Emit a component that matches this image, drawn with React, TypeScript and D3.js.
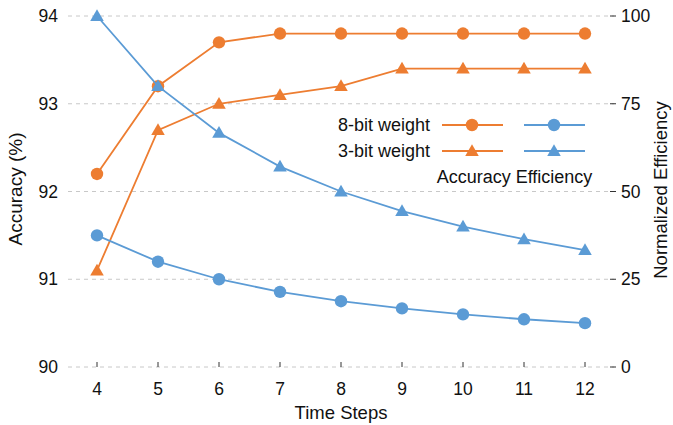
import * as d3 from "d3";

const steps = [4, 5, 6, 7, 8, 9, 10, 11, 12];
const acc8 = [92.2, 93.2, 93.7, 93.8, 93.8, 93.8, 93.8, 93.8, 93.8];
const acc3 = [91.1, 92.7, 93.0, 93.1, 93.2, 93.4, 93.4, 93.4, 93.4];
const eff8 = [37.5, 30, 25, 21.4, 18.75, 16.7, 15, 13.6, 12.5];
const eff3 = [100, 80, 66.7, 57.1, 50, 44.4, 40, 36.4, 33.3];
const leftTicks = [90, 91, 92, 93, 94];
const rightTicks = [0, 25, 50, 75, 100];

const ORANGE = "#ED7D31";
const BLUE = "#5B9BD5";
const FONT = "Liberation Sans, Arial, sans-serif";

export default function App() {
  const W = 673, H = 425;
  const x = d3.scaleLinear().domain([4, 12]).range([97, 585]);
  const yL = d3.scaleLinear().domain([90, 94]).range([367, 16]);
  const yR = d3.scaleLinear().domain([0, 100]).range([367, 16]);
  const line = d3.line<[number, number]>().x(d => d[0]).y(d => d[1]);
  const tri = d3.symbol().type(d3.symbolTriangle).size(80)();

  const series = [
    { vals: acc8, y: yL, color: ORANGE, shape: "circle" },
    { vals: acc3, y: yL, color: ORANGE, shape: "tri" },
    { vals: eff8, y: yR, color: BLUE, shape: "circle" },
    { vals: eff3, y: yR, color: BLUE, shape: "tri" },
  ];

  const marker = (shape: string, color: string, cx: number, cy: number, key?: any) =>
    shape === "circle" ? (
      <circle key={key} cx={cx} cy={cy} r={6.2} fill={color} />
    ) : (
      <path key={key} d={tri!} transform={`translate(${cx},${cy + 1})`} fill={color} />
    );

  return (
    <svg width={W} height={H} style={{ position: "absolute", left: 0, top: 0 }} fontFamily={FONT}>
      {leftTicks.map(t => (
        <g key={t}>
          <line x1={68} x2={614} y1={yL(t)} y2={yL(t)} stroke="#c8c8c8" strokeDasharray="4,4" strokeWidth={1} />
          <text x={58} y={yL(t)} dy="0.35em" textAnchor="end" fontSize={17.5} fill="#111">{t}</text>
        </g>
      ))}
      {rightTicks.map(t => (
        <g key={t}>
          <line x1={610} x2={616} y1={yR(t)} y2={yR(t)} stroke="#333" strokeWidth={1} />
          <text x={621} y={yR(t)} dy="0.35em" textAnchor="start" fontSize={17.5} fill="#111">{t}</text>
        </g>
      ))}
      {steps.map(s => (
        <g key={s}>
          <line x1={x(s)} x2={x(s)} y1={367} y2={362} stroke="#333" strokeWidth={1} />
          <text x={x(s)} y={395} textAnchor="middle" fontSize={17.5} fill="#111">{s}</text>
        </g>
      ))}
      <text x={341} y={419} textAnchor="middle" fontSize={18.5} fill="#111">Time Steps</text>
      <text transform="translate(22,189) rotate(-90)" textAnchor="middle" fontSize={19} fill="#111">Accuracy (%)</text>
      <text transform="translate(667,190) rotate(-90)" textAnchor="middle" fontSize={18.5} fill="#111">Normalized Efficiency</text>

      {series.map((sr, i) => {
        const pts = steps.map((s, j) => [x(s), sr.y(sr.vals[j])] as [number, number]);
        return (
          <g key={i}>
            <path d={line(pts)!} fill="none" stroke={sr.color} strokeWidth={1.8} />
            {pts.map((p, j) => marker(sr.shape, sr.color, p[0], p[1], j))}
          </g>
        );
      })}

      <g fontSize={18} fill="#111">
        <text x={430} y={125} dy="0.35em" textAnchor="end">8-bit weight</text>
        <text x={430} y={151} dy="0.35em" textAnchor="end">3-bit weight</text>
        {[125, 151].map((yy, k) => (
          <g key={yy}>
            <line x1={442} x2={503} y1={yy} y2={yy} stroke={ORANGE} strokeWidth={1.8} />
            {marker(k === 0 ? "circle" : "tri", ORANGE, 472, yy)}
            <line x1={524} x2={585} y1={yy} y2={yy} stroke={BLUE} strokeWidth={1.8} />
            {marker(k === 0 ? "circle" : "tri", BLUE, 554, yy)}
          </g>
        ))}
        <text x={514.5} y={177} dy="0.35em" textAnchor="middle">Accuracy Efficiency</text>
      </g>
    </svg>
  );
}
